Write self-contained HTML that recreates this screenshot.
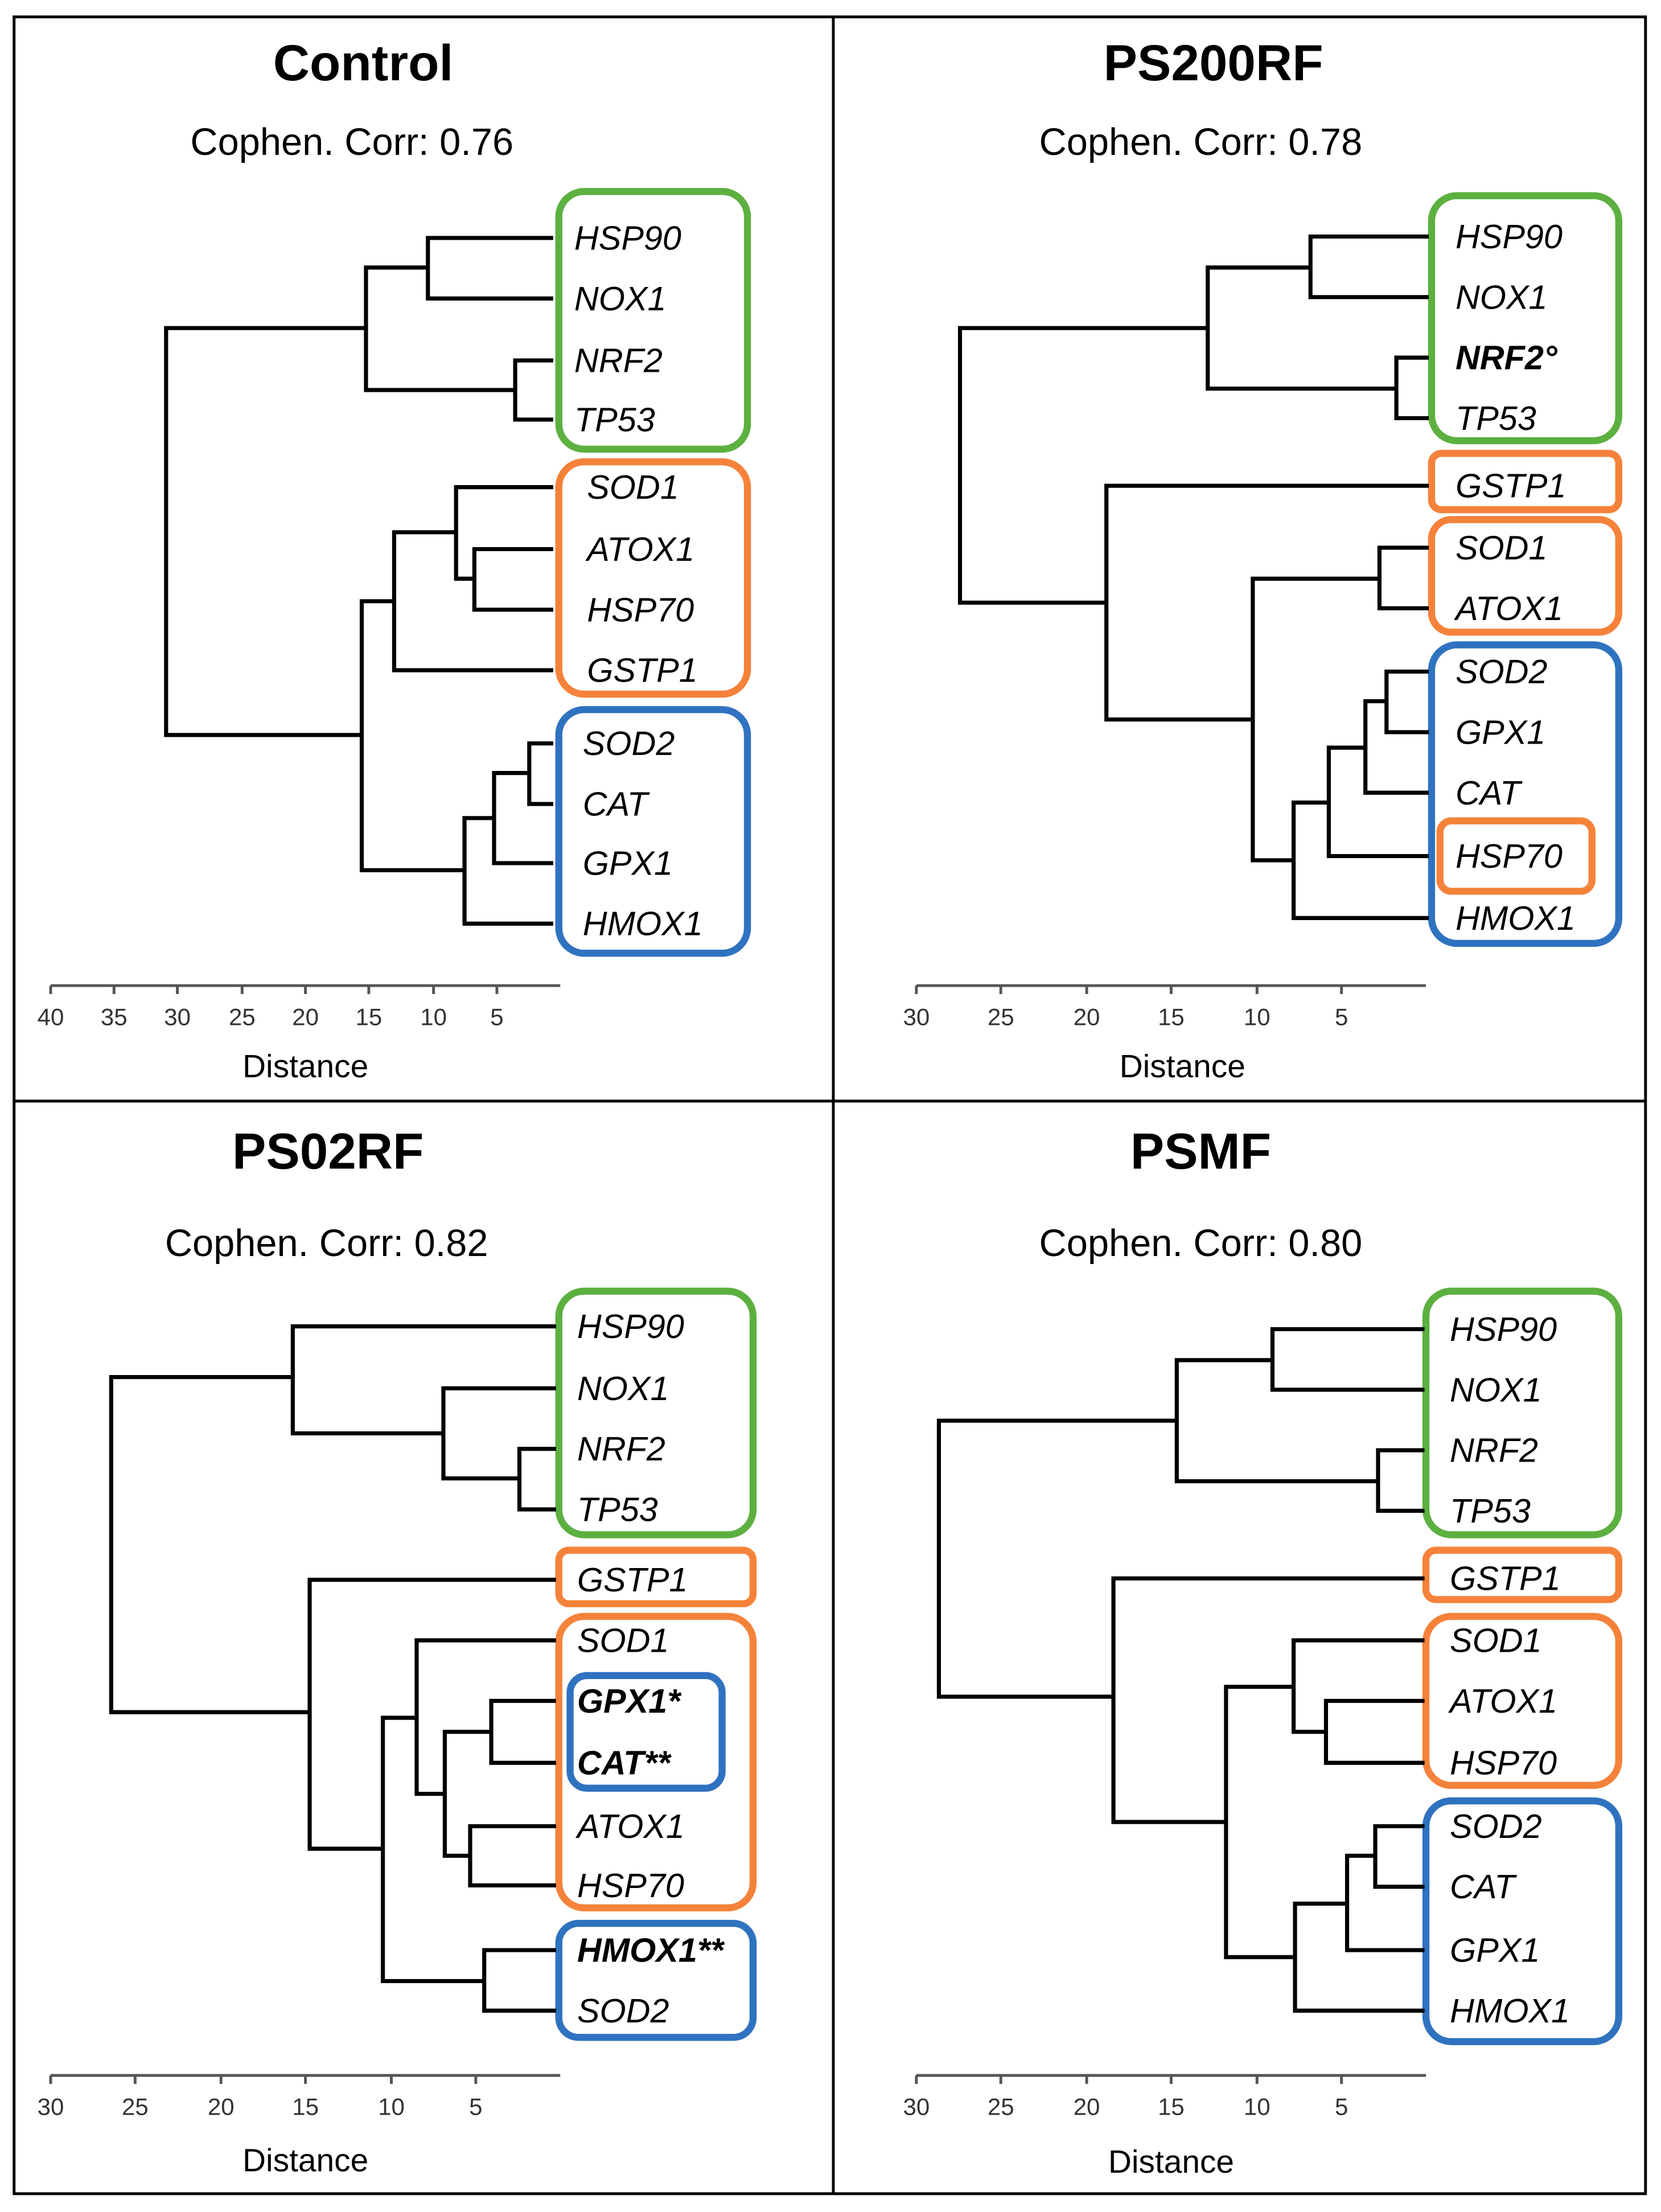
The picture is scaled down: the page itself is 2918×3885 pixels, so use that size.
<!DOCTYPE html>
<html><head><meta charset="utf-8"><style>
html,body{margin:0;padding:0;background:#fff}
svg{display:block}
text{font-family:"Liberation Sans","DejaVu Sans",sans-serif}
.t{font-weight:bold;font-size:36px;text-anchor:middle}
.c{font-size:27px;text-anchor:middle}
.l{font-style:italic;font-size:24px;dominant-baseline:central}
.b{font-weight:bold}
.ax{font-size:17px;text-anchor:middle;fill:#333}
.d{font-size:23px;text-anchor:middle}
.tr{fill:none;stroke:#000;stroke-width:2.9}
.g{fill:none;stroke:#5cb040;stroke-width:5}
.o{fill:none;stroke:#f5823a;stroke-width:5}
.u{fill:none;stroke:#2f72c0;stroke-width:5}
.axl{stroke:#555;stroke-width:2;fill:none}
</style></head><body>
<svg width="2918" height="3885" viewBox="0 0 1180 1571" preserveAspectRatio="none">
<rect x="10" y="12" width="1159" height="1546" fill="none" stroke="#000" stroke-width="2"/>
<line x1="592" y1="12" x2="592" y2="1558" stroke="#000" stroke-width="2"/>
<line x1="10" y1="782" x2="1169" y2="782" stroke="#000" stroke-width="2"/>

<!-- Panel 1 Control -->
<text class="t" x="258" y="57">Control</text>
<text class="c" x="250" y="110">Cophen. Corr: 0.76</text>
<rect class="g" x="397" y="136" width="134" height="183" rx="18"/>
<rect class="o" x="397" y="328" width="134" height="165" rx="18"/>
<rect class="u" x="397" y="504" width="134" height="173" rx="18"/>
<path class="tr" d="M393 169H304V212H393 M393 256H366V298H393 M304 190H260V277H366 M393 390H337V433H393 M393 346H324V411H337 M324 378H280V476H393 M393 528H376V571H393 M376 549H351V613H393 M351 581H330V656H393 M280 427H257V618H330 M260 233H118V522H257"/>
<text class="l" x="408" y="169">HSP90</text>
<text class="l" x="408" y="212">NOX1</text>
<text class="l" x="408" y="256">NRF2</text>
<text class="l" x="408" y="298">TP53</text>
<text class="l" x="417" y="346">SOD1</text>
<text class="l" x="417" y="390">ATOX1</text>
<text class="l" x="417" y="433">HSP70</text>
<text class="l" x="417" y="476">GSTP1</text>
<text class="l" x="414" y="528">SOD2</text>
<text class="l" x="414" y="571">CAT</text>
<text class="l" x="414" y="613">GPX1</text>
<text class="l" x="414" y="656">HMOX1</text>
<path class="axl" d="M36 700H398 M36 700V706 M81 700V706 M126 700V706 M172 700V706 M217 700V706 M262 700V706 M308 700V706 M353 700V706"/>
<g class="ax"><text x="36" y="728">40</text><text x="81" y="728">35</text><text x="126" y="728">30</text><text x="172" y="728">25</text><text x="217" y="728">20</text><text x="262" y="728">15</text><text x="308" y="728">10</text><text x="353" y="728">5</text></g>
<text class="d" x="217" y="765">Distance</text>

<!-- Panel 2 PS200RF -->
<text class="t" x="862" y="57">PS200RF</text>
<text class="c" x="853" y="110">Cophen. Corr: 0.78</text>
<rect class="g" x="1017" y="139" width="133" height="174" rx="18"/>
<rect class="o" x="1017" y="322" width="133" height="40" rx="7"/>
<rect class="o" x="1017" y="369" width="133" height="80" rx="14"/>
<rect class="u" x="1017" y="458" width="133" height="212" rx="18"/>
<rect class="o" x="1023" y="583" width="108" height="50" rx="8"/>
<path class="tr" d="M1015 168H931V211H1015 M1015 254H992V297H1015 M931 190H858V276H992 M1015 389H980V432H1015 M1015 477H985V520H1015 M985 498H970V563H1015 M970 531H944V608H1015 M944 570H919V652H1015 M980 411H890V611H919 M1015 345H786V511H890 M858 233H682V428H786"/>
<text class="l" x="1034" y="168">HSP90</text>
<text class="l" x="1034" y="211">NOX1</text>
<text class="l b" x="1034" y="254">NRF2°</text>
<text class="l" x="1034" y="297">TP53</text>
<text class="l" x="1034" y="345">GSTP1</text>
<text class="l" x="1034" y="389">SOD1</text>
<text class="l" x="1034" y="432">ATOX1</text>
<text class="l" x="1034" y="477">SOD2</text>
<text class="l" x="1034" y="520">GPX1</text>
<text class="l" x="1034" y="563">CAT</text>
<text class="l" x="1034" y="608">HSP70</text>
<text class="l" x="1034" y="652">HMOX1</text>
<path class="axl" d="M651 700H1013 M651 700V706 M711 700V706 M772 700V706 M832 700V706 M893 700V706 M953 700V706"/>
<g class="ax"><text x="651" y="728">30</text><text x="711" y="728">25</text><text x="772" y="728">20</text><text x="832" y="728">15</text><text x="893" y="728">10</text><text x="953" y="728">5</text></g>
<text class="d" x="840" y="765">Distance</text>

<!-- Panel 3 PS02RF -->
<text class="t" x="233" y="830">PS02RF</text>
<text class="c" x="232" y="892">Cophen. Corr: 0.82</text>
<rect class="g" x="397" y="917" width="138" height="173" rx="18"/>
<rect class="o" x="397" y="1101" width="138" height="38" rx="7"/>
<rect class="o" x="397" y="1148" width="138" height="207" rx="18"/>
<rect class="u" x="405" y="1190" width="108" height="80" rx="12"/>
<rect class="u" x="397" y="1366" width="138" height="81" rx="14"/>
<path class="tr" d="M395 1029H369V1072H395 M395 986H315V1050H369 M395 942H208V1018H315 M395 1208H349V1252H395 M395 1297H334V1339H395 M349 1230H316V1318H334 M395 1165H296V1274H316 M395 1385H344V1428H395 M296 1220H272V1407H344 M395 1122H220V1313H272 M208 978H79V1216H220"/>
<text class="l" x="410" y="942">HSP90</text>
<text class="l" x="410" y="986">NOX1</text>
<text class="l" x="410" y="1029">NRF2</text>
<text class="l" x="410" y="1072">TP53</text>
<text class="l" x="410" y="1122">GSTP1</text>
<text class="l" x="410" y="1165">SOD1</text>
<text class="l b" x="410" y="1208">GPX1*</text>
<text class="l b" x="410" y="1252">CAT**</text>
<text class="l" x="410" y="1297">ATOX1</text>
<text class="l" x="410" y="1339">HSP70</text>
<text class="l b" x="410" y="1385">HMOX1**</text>
<text class="l" x="410" y="1428">SOD2</text>
<path class="axl" d="M36 1474H398 M36 1474V1480 M96 1474V1480 M157 1474V1480 M217 1474V1480 M278 1474V1480 M338 1474V1480"/>
<g class="ax"><text x="36" y="1502">30</text><text x="96" y="1502">25</text><text x="157" y="1502">20</text><text x="217" y="1502">15</text><text x="278" y="1502">10</text><text x="338" y="1502">5</text></g>
<text class="d" x="217" y="1542">Distance</text>

<!-- Panel 4 PSMF -->
<text class="t" x="853" y="830">PSMF</text>
<text class="c" x="853" y="892">Cophen. Corr: 0.80</text>
<rect class="g" x="1013" y="917" width="137" height="173" rx="18"/>
<rect class="o" x="1013" y="1101" width="137" height="35" rx="7"/>
<rect class="o" x="1013" y="1148" width="137" height="120" rx="18"/>
<rect class="u" x="1013" y="1279" width="137" height="171" rx="18"/>
<path class="tr" d="M1012 944H904V987H1012 M1012 1030H979V1073H1012 M904 966H836V1052H979 M1012 1208H942V1252H1012 M1012 1165H919V1230H942 M1012 1297H977V1340H1012 M977 1318H957V1385H1012 M957 1352H920V1428H1012 M919 1198H871V1390H920 M1012 1121H791V1294H871 M836 1009H667V1205H791"/>
<text class="l" x="1030" y="944">HSP90</text>
<text class="l" x="1030" y="987">NOX1</text>
<text class="l" x="1030" y="1030">NRF2</text>
<text class="l" x="1030" y="1073">TP53</text>
<text class="l" x="1030" y="1121">GSTP1</text>
<text class="l" x="1030" y="1165">SOD1</text>
<text class="l" x="1030" y="1208">ATOX1</text>
<text class="l" x="1030" y="1252">HSP70</text>
<text class="l" x="1030" y="1297">SOD2</text>
<text class="l" x="1030" y="1340">CAT</text>
<text class="l" x="1030" y="1385">GPX1</text>
<text class="l" x="1030" y="1428">HMOX1</text>
<path class="axl" d="M651 1474H1013 M651 1474V1480 M711 1474V1480 M772 1474V1480 M832 1474V1480 M893 1474V1480 M953 1474V1480"/>
<g class="ax"><text x="651" y="1502">30</text><text x="711" y="1502">25</text><text x="772" y="1502">20</text><text x="832" y="1502">15</text><text x="893" y="1502">10</text><text x="953" y="1502">5</text></g>
<text class="d" x="832" y="1543">Distance</text>
</svg>
</body></html>
